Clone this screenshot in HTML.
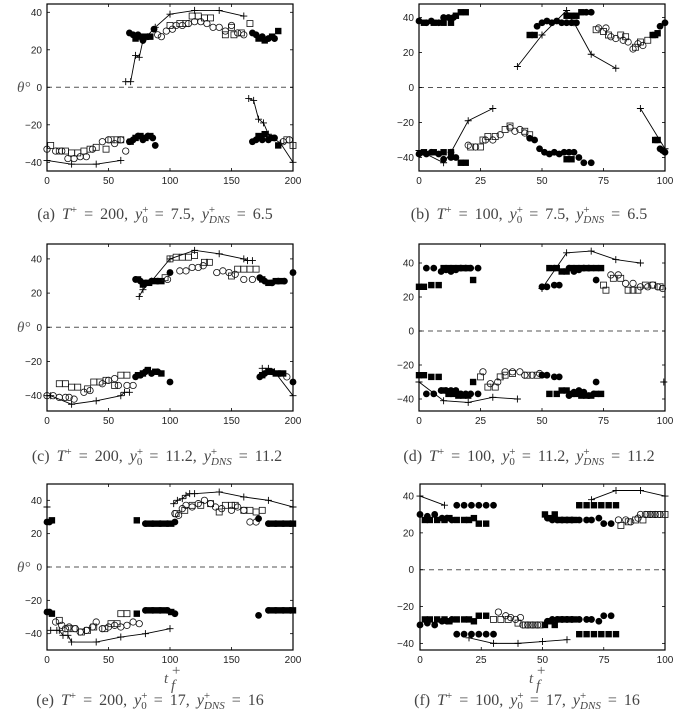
<!DOCTYPE html>
<html><head><meta charset="utf-8"><style>
body{margin:0;background:#fff;width:686px;height:717px;overflow:hidden;position:relative}
svg{position:absolute;left:0;top:0}
.t{font-family:"Liberation Sans",sans-serif;font-size:10px;fill:#222}
.cp{font-family:"Liberation Serif",serif;font-size:16px;fill:#444;word-spacing:3px}
.th{font-family:"Liberation Serif",serif;font-style:italic;font-size:15px;fill:#555}
</style></head><body>
<svg width="686" height="717" viewBox="0 0 686 717" id="s">
<g class="t" text-anchor="end">
<text x="42" y="15.8">40</text><text x="42" y="53.3">20</text><text x="42" y="90.8">0</text><text x="42" y="128.3">−20</text><text x="42" y="165.8">−40</text>
<text x="414" y="21">40</text><text x="414" y="56">20</text><text x="414" y="91">0</text><text x="414" y="126">−20</text><text x="414" y="161">−40</text>
<text x="42" y="262.4">40</text><text x="42" y="296.6">20</text><text x="42" y="330.8">0</text><text x="42" y="365">−20</text><text x="42" y="399.2">−40</text>
<text x="414" y="266.5">40</text><text x="414" y="300.5">20</text><text x="414" y="334.5">0</text><text x="414" y="368.5">−20</text><text x="414" y="402.5">−40</text>
<text x="42" y="503.8">40</text><text x="42" y="537.2">20</text><text x="42" y="570.5">0</text><text x="42" y="603.8">−20</text><text x="42" y="637.2">−40</text>
<text x="414" y="499.5">40</text><text x="414" y="536.4">20</text><text x="414" y="573.2">0</text><text x="414" y="610">−20</text><text x="414" y="646.9">−40</text>
</g>
<g class="t" text-anchor="middle">
<text x="47" y="184">0</text><text x="108.5" y="184">50</text><text x="170" y="184">100</text><text x="231.5" y="184">150</text><text x="293" y="184">200</text>
<text x="419" y="184">0</text><text x="480.5" y="184">25</text><text x="542" y="184">50</text><text x="603.5" y="184">75</text><text x="665" y="184">100</text>
<text x="47" y="424">0</text><text x="108.5" y="424">50</text><text x="170" y="424">100</text><text x="231.5" y="424">150</text><text x="293" y="424">200</text>
<text x="419" y="424">0</text><text x="480.5" y="424">25</text><text x="542" y="424">50</text><text x="603.5" y="424">75</text><text x="665" y="424">100</text>
<text x="47" y="663">0</text><text x="108.5" y="663">50</text><text x="170" y="663">100</text><text x="231.5" y="663">150</text><text x="293" y="663">200</text>
<text x="420" y="663">0</text><text x="481" y="663">25</text><text x="542.5" y="663">50</text><text x="604" y="663">75</text><text x="665" y="663">100</text>
</g>
<text class="th" x="17" y="92">θ°</text>
<text class="th" x="17" y="332">θ°</text>
<text class="th" x="17" y="572">θ°</text>
<text class="th" x="164" y="683" font-size="19">t</text><text class="th" x="171" y="675" font-size="12" font-style="normal">+</text><text class="th" x="171" y="690" font-size="12">f</text>
<text class="th" x="529" y="683" font-size="19">t</text><text class="th" x="536" y="675" font-size="12" font-style="normal">+</text><text class="th" x="536" y="690" font-size="12">f</text>
<g class="cp" text-anchor="middle">
<text x="155" y="219">(a) <tspan font-style="italic">T</tspan><tspan font-size="11" dy="-6">+</tspan><tspan dy="6"> = 200, </tspan><tspan font-style="italic">y</tspan><tspan font-size="11" dy="-6">+</tspan><tspan font-size="11" dx="-6.2" dy="10">0</tspan><tspan dy="-4"> = 7.5, </tspan><tspan font-style="italic">y</tspan><tspan font-size="11" dy="-6">+</tspan><tspan font-size="11" font-style="italic" dx="-6.2" dy="10">DNS</tspan><tspan dy="-4"> = 6.5</tspan></text>
<text x="529" y="219">(b) <tspan font-style="italic">T</tspan><tspan font-size="11" dy="-6">+</tspan><tspan dy="6"> = 100, </tspan><tspan font-style="italic">y</tspan><tspan font-size="11" dy="-6">+</tspan><tspan font-size="11" dx="-6.2" dy="10">0</tspan><tspan dy="-4"> = 7.5, </tspan><tspan font-style="italic">y</tspan><tspan font-size="11" dy="-6">+</tspan><tspan font-size="11" font-style="italic" dx="-6.2" dy="10">DNS</tspan><tspan dy="-4"> = 6.5</tspan></text>
<text x="157" y="461">(c) <tspan font-style="italic">T</tspan><tspan font-size="11" dy="-6">+</tspan><tspan dy="6"> = 200, </tspan><tspan font-style="italic">y</tspan><tspan font-size="11" dy="-6">+</tspan><tspan font-size="11" dx="-6.2" dy="10">0</tspan><tspan dy="-4"> = 11.2, </tspan><tspan font-style="italic">y</tspan><tspan font-size="11" dy="-6">+</tspan><tspan font-size="11" font-style="italic" dx="-6.2" dy="10">DNS</tspan><tspan dy="-4"> = 11.2</tspan></text>
<text x="529" y="461">(d) <tspan font-style="italic">T</tspan><tspan font-size="11" dy="-6">+</tspan><tspan dy="6"> = 100, </tspan><tspan font-style="italic">y</tspan><tspan font-size="11" dy="-6">+</tspan><tspan font-size="11" dx="-6.2" dy="10">0</tspan><tspan dy="-4"> = 11.2, </tspan><tspan font-style="italic">y</tspan><tspan font-size="11" dy="-6">+</tspan><tspan font-size="11" font-style="italic" dx="-6.2" dy="10">DNS</tspan><tspan dy="-4"> = 11.2</tspan></text>
<text x="150" y="705">(e) <tspan font-style="italic">T</tspan><tspan font-size="11" dy="-6">+</tspan><tspan dy="6"> = 200, </tspan><tspan font-style="italic">y</tspan><tspan font-size="11" dy="-6">+</tspan><tspan font-size="11" dx="-6.2" dy="10">0</tspan><tspan dy="-4"> = 17, </tspan><tspan font-style="italic">y</tspan><tspan font-size="11" dy="-6">+</tspan><tspan font-size="11" font-style="italic" dx="-6.2" dy="10">DNS</tspan><tspan dy="-4"> = 16</tspan></text>
<text x="527" y="705">(f) <tspan font-style="italic">T</tspan><tspan font-size="11" dy="-6">+</tspan><tspan dy="6"> = 100, </tspan><tspan font-style="italic">y</tspan><tspan font-size="11" dy="-6">+</tspan><tspan font-size="11" dx="-6.2" dy="10">0</tspan><tspan dy="-4"> = 17, </tspan><tspan font-style="italic">y</tspan><tspan font-size="11" dy="-6">+</tspan><tspan font-size="11" font-style="italic" dx="-6.2" dy="10">DNS</tspan><tspan dy="-4"> = 16</tspan></text>
</g>
</svg>
<script>
var NS="http://www.w3.org/2000/svg",S=document.getElementById('s');
function el(n,a){var e=document.createElementNS(NS,n);for(var k in a)e.setAttribute(k,a[k]);S.appendChild(e);return e;}
var P={
a:[47,293,4,171,200,87.3,1.875,50],b:[419,665,4,171,100,87.5,1.75,25],
c:[47,293,244,411,200,327.3,1.71,50],d:[419,665,244,411,100,331,1.7,25],
e:[47,293,484,650,200,567,1.667,50],f:[420,665,484,650,100,569.7,1.842,25]};
function X(p,v){return p[0]+(p[1]-p[0])*v/p[4];}
function Y(p,v){return p[5]-v*p[6];}
for(var k in P){var p=P[k];
 el('line',{x1:p[0],x2:p[1],y1:p[5],y2:p[5],stroke:'#555','stroke-width':1,'stroke-dasharray':'5,4'});
 for(var v=0;v<=p[4];v+=p[7]){var x=X(p,v);el('line',{x1:x,x2:x,y1:p[3],y2:p[3]-3,stroke:'#000','stroke-width':0.8});el('line',{x1:x,x2:x,y1:p[2],y2:p[2]+3,stroke:'#000','stroke-width':0.8});}
 for(var v=-40;v<=40;v+=20){var y=Y(p,v);el('line',{x1:p[0],x2:p[0]+3,y1:y,y2:y,stroke:'#000','stroke-width':0.8});el('line',{x1:p[1],x2:p[1]-3,y1:y,y2:y,stroke:'#000','stroke-width':0.8});}
 el('rect',{x:p[0],y:p[2],width:p[1]-p[0],height:p[3]-p[2],fill:'none',stroke:'#000','stroke-width':1.2});
}
function pts(s){return s.trim().split(/\s+/).map(function(t){return t.split(',').map(Number);});}
function oc(k,s){var p=P[k];pts(s).forEach(function(d){el('circle',{cx:X(p,d[0]),cy:Y(p,d[1]),r:3.2,fill:'none',stroke:'#111','stroke-width':0.8});});}
function fc(k,s){var p=P[k];pts(s).forEach(function(d){el('circle',{cx:X(p,d[0]),cy:Y(p,d[1]),r:3.4,fill:'#000'});});}
function os(k,s){var p=P[k];pts(s).forEach(function(d){el('rect',{x:X(p,d[0])-3,y:Y(p,d[1])-3,width:6,height:6,fill:'none',stroke:'#111','stroke-width':0.8});});}
function fs(k,s){var p=P[k];pts(s).forEach(function(d){el('rect',{x:X(p,d[0])-3.2,y:Y(p,d[1])-3.2,width:6.4,height:6.4,fill:'#000'});});}
function pl(k,s){var p=P[k],a=pts(s),q=a.map(function(d){return X(p,d[0])+','+Y(p,d[1]);}).join(' ');
 el('polyline',{points:q,fill:'none',stroke:'#000','stroke-width':0.9});
 a.forEach(function(d){var x=X(p,d[0]),y=Y(p,d[1]);el('path',{d:'M'+(x-3.5)+' '+y+'h7M'+x+' '+(y-3.5)+'v7',stroke:'#000','stroke-width':0.9});});}
// a
oc('a','0,-33 7,-34 12,-34 17,-38 22,-38 27,-37 32,-37 37,-33 45,-29 50,-28 55,-30 60,-28 64,-34');
os('a','3,-31 10,-34 15,-34 20,-35 25,-35 30,-34 35,-33 40,-32 48,-33 52,-28 57,-28 60,-28');
fc('a','67,-29 70,-28 74,-26 78,-28 82,-26 86,-27 88,-31');fs('a','68,-29 72,-27 76,-26 80,-27 84,-26');
pl('a','0,-39 20,-41 40,-41 60,-39');
pl('a','64,3 68,3 72,17 75,16 78,25 88,32 100,39 120,41 140,41 160,38');
fc('a','67,29 70,28 74,28 78,25 82,27 87,31');fs('a','72,26 76,27 80,27 84,27');
oc('a','90,28 93,27 97,30 102,31 105,33 110,33 115,34 120,35 125,35 130,34 135,32 140,32 145,30 150,33 155,29 160,28');
os('a','100,33 108,34 113,34 118,38 123,38 128,37 133,37 145,28 150,32 152,28 158,29 165,34');
fc('a','167,29 170,28 175,27 180,26 185,26');fs('a','172,26 177,25 183,27 188,30');
pl('a','164,-6 168,-7 172,-17 176,-19 180,-25 190,-30 200,-40');
fc('a','167,-29 170,-28 175,-28 180,-28 185,-27');fs('a','172,-26 177,-25 183,-27 188,-31');
oc('a','192,-29 197,-28');os('a','195,-28 200,-31');
// b
fc('b','0,38 3,37 5,38 8,37 10,40 12,40 14,40');fs('b','2,37 6,37 10,37 13,37 15,41 17,43 19,43');
fc('b','0,-38 3,-38 5,-37 8,-38 10,-41 13,-40 15,-40');fs('b','2,-37 6,-37 10,-37 13,-37 17,-43 19,-43');
pl('b','0,-36 10,-43 13,-37 20,-19 30,-12');
oc('b','20,-33 23,-34 27,-30 30,-30 33,-27 37,-23 39,-25 41,-24 43,-26');
os('b','21,-34 25,-34 26,-30 28,-28 31,-28 35,-24 37,-22 43,-25 45,-27');
fc('b','45,-29 47,-30 49,-35 51,-37 53,-38 55,-37 57,-38 59,-37 61,-37 63,-37 65,-40 67,-43 70,-43');fs('b','60,-41 62,-41');
pl('b','40,12 50,30 60,44 63,37 70,19 80,11');
fc('b','48,35 50,37 52,38 54,37 56,38 58,37 60,37 62,37 64,37 68,43 70,43');fs('b','45,30 47,30 60,41 62,41 64,41 66,43');
oc('b','73,34 76,34 78,29 80,28 83,27 85,26 87,22 89,25 91,24');os('b','72,33 75,32 77,30 82,30 84,29 88,23 90,26 93,27');
fc('b','98,35 100,37');fs('b','95,30 96,30 97,31');
pl('b','90,-12 100,-35');fc('b','98,-35 99,-36 100,-37');fs('b','96,-30 97,-30');
// c
oc('c','0,-40 5,-40 10,-41 15,-41 18,-41 22,-42 30,-38 35,-37 45,-33 50,-31 55,-30 58,-34 65,-34 70,-34');
os('c','10,-33 15,-33 20,-35 25,-35 33,-36 38,-32 43,-32 48,-31 55,-34 60,-28 65,-28');
pl('c','0,-40 3,-40 20,-45 40,-43 60,-40 63,-38 67,-38');
fc('c','72,-29 76,-28 80,-26 85,-27 90,-26 100,-32');fs('c','74,-28 78,-27 82,-25 88,-26 93,-27');
pl('c','75,18 78,22 85,27 100,40 120,45 140,43 160,40 163,39 167,39');
fc('c','72,28 76,27 80,26 85,27 90,27 100,32');fs('c','74,28 78,25 83,26 88,27 93,27');
os('c','96,29 100,40 105,41 110,41 115,41 120,42 128,38 132,38 150,30 155,34 160,34 165,34 170,34');
oc('c','98,28 108,33 113,33 118,35 123,35 127,36 138,32 143,33 148,32 153,31 160,28 167,28');
fc('c','173,29 177,27 183,26 188,27 193,27 200,32');fs('c','175,28 180,26 186,27 191,27');
fc('c','173,-29 177,-27 183,-26 189,-27 200,-32');fs('c','175,-28 180,-26 186,-27 192,-27');
pl('c','175,-24 180,-24 185,-26 200,-40');oc('c','195,-29');
// d
fs('d','0,26 2,26 5,27 8,27 22,30 10,37 12,37 14,37 16,37 18,37 20,37');
fc('d','3,37 6,37 9,35 11,36 13,35 15,36 17,37 19,37 21,37 24,37');
fs('d','0,-26 2,-26 5,-27 8,-27 22,-30 10,-35 12,-37 14,-37 16,-38 18,-38 20,-38');
fc('d','3,-37 6,-37 9,-35 11,-35 13,-35 15,-35 17,-37 19,-37 21,-37 24,-37');
pl('d','0,-30 10,-41 20,-42 30,-39 40,-40');
os('d','25,-27 28,-33 31,-33 33,-27 35,-26 38,-25 44,-26 48,-26');
oc('d','26,-24 29,-31 32,-30 35,-24 38,-24 41,-24 43,-26 46,-26 49,-25');
fc('d','50,-26 52,-26 55,-27 57,-27 72,-30 61,-38 63,-36 65,-35 67,-36 69,-38 71,-37');
fs('d','53,-37 56,-37 58,-35 60,-35 62,-37 64,-37 66,-38 68,-38 70,-38 72,-37 74,-37');
pl('d','50,25 60,46 70,47 80,42 90,40');
fc('d','50,26 52,26 55,27 57,27 72,30 55,37 61,37 63,35 65,36 67,37 69,37');
fs('d','53,37 56,37 58,35 60,35 62,37 64,37 66,37 68,37 70,37 72,37 74,37');
oc('d','78,33 81,33 84,28 87,28 90,26 93,26 95,27 97,26 99,25');
os('d','75,27 76,24 79,31 82,31 85,24 87,24 89,24 92,27 95,27 98,26');
pl('d','99.5,-30');
// e
fc('e','0,27 2,27 0,-27 2,-27');fs('e','4,28 4,-28');
pl('e','0,36');
pl('e','3,-38 8,-38 10,-38 13,-41 17,-41 20,-45 40,-45 60,-42 80,-40 100,-37');
oc('e','7,-33 12,-35 15,-37 18,-36 23,-37 27,-39 32,-38 37,-36 40,-33 45,-37 50,-36 55,-35 60,-36 65,-35 70,-33 75,-34');
os('e','10,-32 17,-37 22,-37 28,-39 33,-38 38,-36 47,-37 52,-34 57,-34 60,-28 65,-28');
fs('e','73,28 73,-28');
fc('e','80,26 86,26 92,26 98,26 104,27 80,-26 86,-26 92,-26 98,-26 104,-28');
fs('e','83,26 89,26 95,26 101,26 83,-26 89,-26 95,-26 101,-27');
oc('e','104,32 107,31 110,35 113,37 118,36 123,38 128,40 133,38 137,36 142,35 150,34 155,36 160,34 165,27 170,27');
os('e','105,32 112,34 118,37 125,37 133,38 140,33 145,37 150,37 153,37 160,34 165,34 170,33 175,34');
pl('e','103,38 106,40 110,41 113,43 116,44 120,44 140,45 160,42 180,40 200,36');
fc('e','172,29 172,-29 180,26 186,26 192,26 198,26 180,-26 186,-26 192,-26 198,-26');
fs('e','183,26 189,26 195,26 200,26 183,-26 189,-26 195,-26 200,-26');
// f
pl('f','0,40 10,35');pl('f','70,38 80,43 90,43 100,40');pl('f','20,-37 30,-40 40,-40 50,-39 60,-38');
fc('f','0,30 3,29 6,30 9,28 11,28 13,27 15,35 18,35 21,35 24,35 27,35 30,35');
fs('f','2,27 4,27 7,27 10,27 12,28 15,27 18,27 20,27 22,28 24,25 27,25');
fc('f','0,-30 3,-29 6,-30 9,-28 11,-28 13,-27 15,-35 18,-35 21,-35 24,-35 27,-35 30,-35');
fs('f','2,-27 4,-27 7,-27 10,-27 12,-28 15,-27 18,-27 20,-27 22,-28 24,-25 27,-25');
fs('f','51,30 53,28 55,30 57,27 59,27 61,27 63,27 65,35 68,35 71,35 74,35 77,35 80,35');
fc('f','52,28 54,27 56,27 58,27 60,27 62,27 65,27 68,27 70,27 73,28 75,25 78,25');
fs('f','51,-30 53,-28 55,-30 57,-27 59,-27 61,-27 63,-27 65,-35 68,-35 71,-35 74,-35 77,-35 80,-35');
fc('f','52,-28 54,-27 56,-27 58,-27 60,-27 62,-27 65,-27 68,-27 70,-27 73,-28 75,-25 78,-25');
oc('f','81,27 84,27 86,26 89,28 90,30 92,30 94,30 96,30 98,30');
os('f','82,24 85,26 88,27 91,27 93,30 95,30 97,30 100,30');
oc('f','32,-23 35,-25 37,-26 39,-27 41,-26 42,-30 44,-30 46,-30 48,-30');
os('f','30,-27 33,-27 36,-27 40,-29 43,-30 45,-30 47,-30 49,-30');
</script>
</body></html>
